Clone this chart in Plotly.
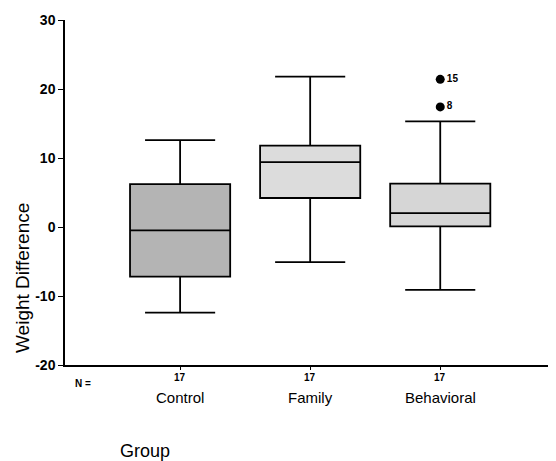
import plotly.graph_objects as go

categories = ["Control", "Family", "Behavioral"]
n_counts = [17, 17, 17]
q1 = [-7.2, 4.2, 0.1]
median = [-0.5, 9.4, 2.0]
q3 = [6.2, 11.8, 6.3]
lower_whisker = [-12.4, -5.1, -9.1]
upper_whisker = [12.6, 21.8, 15.3]
outlier_group = ["Behavioral", "Behavioral"]
outlier_values = [21.4, 17.4]
outlier_labels = ["15", "8"]
y_ticks = [-20, -10, 0, 10, 20, 30]

fills = ["#b4b4b4", "#dcdcdc", "#d6d6d6"]

fig = go.Figure()
for i, c in enumerate(categories):
    fig.add_trace(go.Box(
        x=[c], q1=[q1[i]], median=[median[i]], q3=[q3[i]],
        lowerfence=[lower_whisker[i]], upperfence=[upper_whisker[i]],
        boxpoints=False, fillcolor=fills[i], width=0.77, whiskerwidth=0.7,
        line=dict(color="black", width=1.8), showlegend=False, hoverinfo="skip",
    ))

fig.add_trace(go.Scatter(
    x=outlier_group, y=outlier_values, mode="markers+text",
    text=[f"<b>{t}</b>" for t in outlier_labels], textposition="middle right",
    textfont=dict(family="Liberation Sans, Arial", size=10, color="black"),
    marker=dict(color="black", size=9), showlegend=False, hoverinfo="skip",
))

font = "Liberation Sans, Arial, sans-serif"
ann = []
for c, n in zip(categories, n_counts):
    ann.append(dict(x=c, xref="x", y=0, yref="paper", yshift=-12, text=f"<b>{n}</b>",
                    showarrow=False, font=dict(family=font, size=10, color="black"),
                    yanchor="middle"))
    ann.append(dict(x=c, xref="x", y=0, yref="paper", yshift=-32, text=c,
                    showarrow=False, font=dict(family=font, size=15, color="black"),
                    yanchor="middle"))
ann.append(dict(x=0, xref="paper", xshift=8, y=0, yref="paper", yshift=-18, text="<b>N =</b>",
                showarrow=False, font=dict(family=font, size=10, color="black"),
                xanchor="left", yanchor="middle"))
ann.append(dict(x=0, xref="paper", xshift=80, y=0, yref="paper", yshift=-86, text="Group",
                showarrow=False, font=dict(family=font, size=18, color="black"),
                xanchor="center", yanchor="middle"))
ann.append(dict(x=0, xref="paper", xshift=-43, y=0, yref="paper", yshift=87,
                text="Weight Difference", textangle=-90,
                showarrow=False, font=dict(family=font, size=19, color="black"),
                xanchor="center", yanchor="middle"))

fig.update_layout(
    width=548, height=453,
    margin=dict(l=57, r=0, t=12, b=96),
    paper_bgcolor="white", plot_bgcolor="white",
    annotations=ann,
    xaxis=dict(type="category", categoryorder="array", categoryarray=categories,
               range=[-0.885, 2.89], showline=True, linecolor="black", linewidth=1.5,
               ticks="outside", ticklen=3, tickcolor="black", showticklabels=False,
               showgrid=False, zeroline=False),
    yaxis=dict(range=[-20, 30], tickvals=y_ticks,
               ticktext=[f"<b>{v}</b>" for v in y_ticks],
               showline=True, linecolor="black", linewidth=1.5,
               ticks="outside", ticklen=5, tickcolor="black",
               tickfont=dict(family=font, size=14, color="black"),
               showgrid=False, zeroline=False),
)

fig.write_html("out.html")
